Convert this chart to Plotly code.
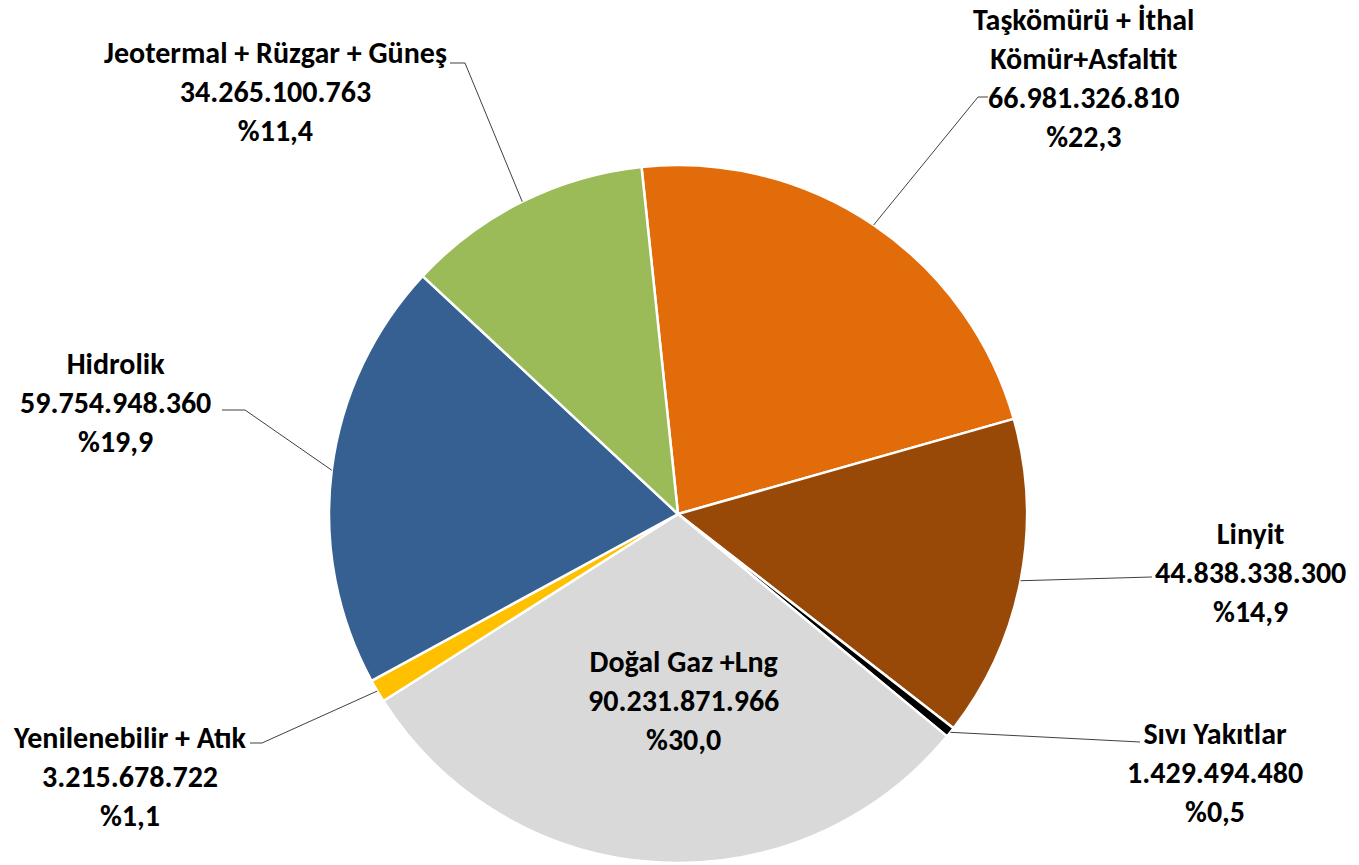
import math
import plotly.graph_objects as go

# ---- data ----
categories = [
    "Taşkömürü + İthal Kömür+Asfaltit",
    "Linyit",
    "Sıvı Yakıtlar",
    "Doğal Gaz +Lng",
    "Yenilenebilir + Atık",
    "Hidrolik",
    "Jeotermal + Rüzgar + Güneş",
]
display_names = [
    "Taşkömürü + İthal<br>Kömür+Asfaltit",
    "Linyit",
    "Sıvı Yakıtlar",
    "Doğal Gaz +Lng",
    "Yenilenebilir + Atık",
    "Hidrolik",
    "Jeotermal + Rüzgar + Güneş",
]
values = [66981326810, 44838338300, 1429494480, 90231871966,
          3215678722, 59754948360, 34265100763]

# ---- style ----
colors = ["#E36C0A", "#984807", "#000000", "#D9D9D9", "#FFC000", "#376092", "#9BBB59"]
W, H = 1359, 865
CX, CY, R = 678, 514, 349
ROTATION = -6
FONT = "Carlito, Lato, sans-serif"
FSIZE = 30

# label centres (px) and leader line waypoints (px) per slice
label_pos = [(1083, 78), (1250, 572), (1215, 772), (683, 700),
             (130, 776), (115, 403), (275, 91)]
leader_pts = [
    [(978, 97), (988, 97)],
    [(1152, 577)],
    [(1140, 742)],
    None,
    [(262, 743), (250, 743)],
    [(245, 410), (222, 410)],
    [(465, 63), (450, 63)],
]


def fmt_val(v):
    return f"{v:,}".replace(",", ".")


def fmt_pct(v, tot):
    return "%" + f"{v / tot * 100:.1f}".replace(".", ",")


def px2paper(x, y):
    return x / W, 1 - y / H


total = sum(values)

fig = go.Figure(go.Pie(
    labels=categories,
    values=values,
    sort=False,
    direction="clockwise",
    rotation=ROTATION,
    marker=dict(colors=colors, line=dict(color="white", width=2.5)),
    textinfo="none",
    hoverinfo="label+value+percent",
    showlegend=False,
    domain=dict(x=[(CX - R) / W, (CX + R) / W], y=[1 - (CY + R) / H, 1 - (CY - R) / H]),
))

annotations = []
shapes = []
cum = 0
for i, v in enumerate(values):
    mid = math.radians(ROTATION + 360 * (cum + v / 2) / total)
    cum += v
    ex = CX + R * math.sin(mid)
    ey = CY - R * math.cos(mid)
    lx, ly = label_pos[i]
    ax, ay = px2paper(lx, ly)
    annotations.append(dict(
        x=ax, y=ay, xref="paper", yref="paper",
        xanchor="center", yanchor="middle", align="center",
        showarrow=False,
        text=f"<b>{display_names[i]}<br>{fmt_val(v)}<br>{fmt_pct(v, total)}</b>",
        font=dict(family=FONT, size=FSIZE, color="#000000"),
    ))
    if leader_pts[i]:
        pts = [(ex, ey)] + leader_pts[i]
        path = ""
        for j, (px, py) in enumerate(pts):
            qx, qy = px2paper(px, py)
            path += ("M" if j == 0 else " L") + f"{qx:.5f},{qy:.5f}"
        shapes.append(dict(type="path", path=path, xref="paper", yref="paper",
                           line=dict(color="#404040", width=1)))

fig.update_layout(
    width=W, height=H,
    margin=dict(l=0, r=0, t=0, b=0),
    paper_bgcolor="white", plot_bgcolor="white",
    annotations=annotations, shapes=shapes,
)

fig.write_html("out.html",
               config={"displayModeBar": False},
               post_script="document.body.style.margin='0px';document.body.style.overflow='hidden';")
